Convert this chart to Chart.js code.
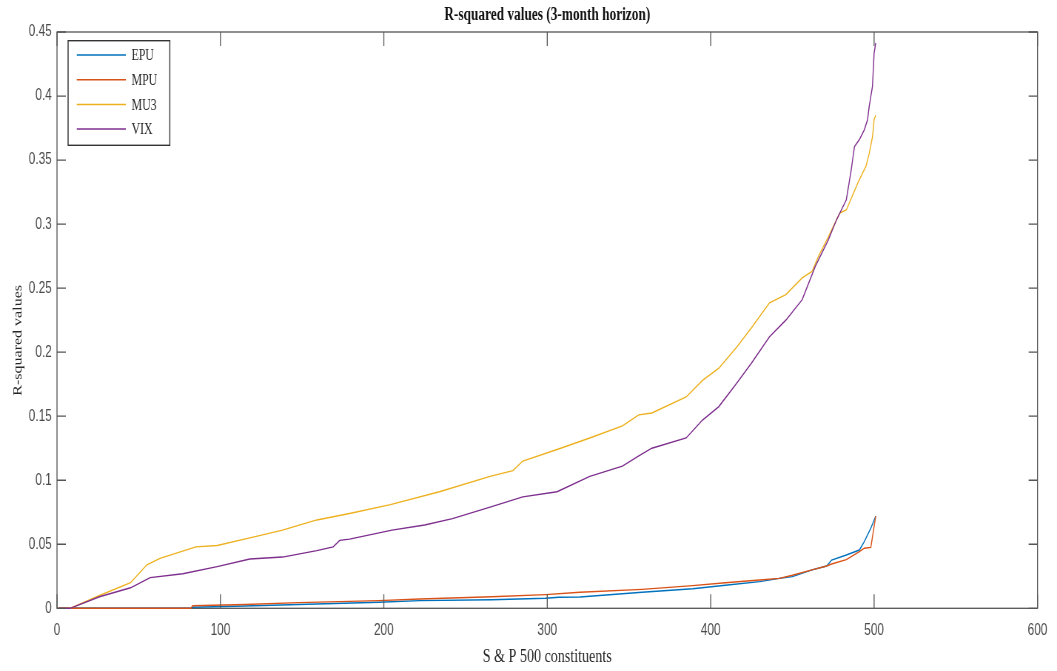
<!DOCTYPE html>
<html>
<head>
<meta charset="utf-8">
<script src="https://cdn.jsdelivr.net/npm/chart.js@4/dist/chart.umd.min.js"></script>
<style>
  html, body { margin: 0; padding: 0; background: #fff; overflow: hidden; }
  /* the figure is laid out wide and squeezed horizontally to its final 1057px width */
  #wrap { width: 1428px; height: 671px; transform: scaleX(0.7402); transform-origin: 0 0; }
</style>
</head>
<body>
<div id="wrap"><canvas id="c" width="1428" height="671"></canvas></div>
<script>
// Sorted R-squared values across S&P 500 constituents (constituent rank -> R²)
const epuX = [1, 82, 83, 115, 148, 197, 222, 266, 299, 307, 320, 328, 358, 389, 409, 430, 442, 450, 462, 471, 474, 483, 491, 494, 498, 501];
const epuY = [0, 0, 0.0008, 0.0018, 0.003, 0.0047, 0.006, 0.0067, 0.0078, 0.0086, 0.0088, 0.0096, 0.0125, 0.0153, 0.018, 0.0208, 0.0234, 0.0247, 0.030, 0.033, 0.0377, 0.0416, 0.0455, 0.052, 0.0625, 0.072];

const mpuX = [1, 82, 83, 115, 148, 197, 222, 266, 299, 320, 358, 389, 409, 430, 442, 450, 462, 471, 474, 483, 491, 494, 498, 501];
const mpuY = [0, 0, 0.002, 0.003, 0.0044, 0.006, 0.0073, 0.009, 0.0107, 0.0125, 0.0148, 0.0177, 0.020, 0.0221, 0.0234, 0.0258, 0.030, 0.033, 0.0346, 0.038, 0.0442, 0.0469, 0.0475, 0.072];

const mu3X = [1, 8, 26, 45, 55, 63, 85, 98, 118, 138, 159, 179, 204, 234, 265, 279, 285, 306, 326, 346, 356, 364, 385, 395, 405, 416, 425, 436, 446, 456, 462, 466, 472, 479, 483, 490, 493, 495, 497, 499, 500, 501];
const mu3Y = [0, 0, 0.010, 0.020, 0.034, 0.039, 0.048, 0.049, 0.055, 0.061, 0.069, 0.074, 0.081, 0.091, 0.103, 0.1075, 0.115, 0.124, 0.133, 0.1425, 0.151, 0.1525, 0.165, 0.178, 0.1875, 0.204, 0.219, 0.2385, 0.245, 0.258, 0.263, 0.275, 0.29, 0.3086, 0.311, 0.332, 0.340, 0.345, 0.355, 0.368, 0.3815, 0.385];

const vixX = [1, 8, 26, 45, 57, 77, 98, 118, 138, 159, 169, 173, 179, 205, 225, 242, 265, 285, 306, 326, 346, 356, 364, 385, 395, 405, 416, 425, 436, 446, 456, 464, 472, 477, 483, 486, 488, 491, 494, 496, 497, 499, 500, 501];
const vixY = [0, 0, 0.009, 0.016, 0.024, 0.027, 0.0325, 0.0385, 0.040, 0.045, 0.048, 0.053, 0.054, 0.061, 0.065, 0.070, 0.079, 0.087, 0.091, 0.103, 0.111, 0.119, 0.125, 0.133, 0.147, 0.1575, 0.176, 0.1915, 0.212, 0.225, 0.241, 0.267, 0.2877, 0.3034, 0.319, 0.3424, 0.3606, 0.366, 0.3736, 0.3815, 0.392, 0.4075, 0.4336, 0.4414];

const seriesNames = ['EPU', 'MPU', 'MU3', 'VIX'];
const seriesColors = ['#0072BD', '#D95319', '#EDB120', '#7E2F8E'];

const xTicks = [0, 100, 200, 300, 400, 500, 600];
const yTicks = [0, 0.05, 0.1, 0.15, 0.2, 0.25, 0.3, 0.35, 0.4, 0.45];

const chartTitle = 'R-squared values (3-month horizon)';
const xTitle = 'S & P 500 constituents';
const yTitle = 'R-squared values';

const zip = (xs, ys) => xs.map((x, i) => ({ x: x, y: ys[i] }));
const seriesData = [zip(epuX, epuY), zip(mpuX, mpuY), zip(mu3X, mu3Y), zip(vixX, vixY)];

const tickFont = { family: "'Liberation Sans', Arial, sans-serif", size: 16 };
const serif = "'Liberation Serif', 'Times New Roman', serif";

// Axes frame behind the lines, inward tick marks on all four sides over them
const axesBox = {
  id: 'axesBox',
  beforeDatasetsDraw(chart) {
    const { ctx, chartArea: a } = chart;
    ctx.save();
    ctx.strokeStyle = '#555';
    ctx.lineWidth = 1.3;
    ctx.strokeRect(a.left, a.top, a.right - a.left, a.bottom - a.top);
    ctx.restore();
  },
  afterDatasetsDraw(chart) {
    const { ctx, chartArea: a, scales } = chart;
    ctx.save();
    ctx.strokeStyle = '#555';
    ctx.lineWidth = 1.3;
    ctx.beginPath();
    scales.x.ticks.forEach(t => {
      const px = scales.x.getPixelForValue(t.value);
      ctx.moveTo(px, a.bottom); ctx.lineTo(px, a.bottom - 14);
      ctx.moveTo(px, a.top); ctx.lineTo(px, a.top + 14);
    });
    scales.y.ticks.forEach(t => {
      const py = scales.y.getPixelForValue(t.value);
      ctx.moveTo(a.left, py); ctx.lineTo(a.left + 12, py);
      ctx.moveTo(a.right, py); ctx.lineTo(a.right - 12, py);
    });
    ctx.stroke();
    ctx.restore();
  }
};

// Bold title centred over the axes, and the rotated y-axis label
const titles = {
  id: 'titles',
  afterDraw(chart) {
    const { ctx, chartArea: a } = chart;
    ctx.save();
    ctx.textAlign = 'center';
    ctx.textBaseline = 'middle';
    ctx.font = 'bold 18px ' + serif;
    ctx.fillStyle = '#111';
    ctx.fillText(chartTitle, (a.left + a.right) / 2, 15.5);
    ctx.translate(24.3, a.top + (a.bottom - a.top) * 0.535);
    ctx.rotate(-Math.PI / 2);
    ctx.font = '16px ' + serif;
    ctx.fillStyle = '#262626';
    ctx.fillText(yTitle, 0, 0);
    ctx.restore();
  }
};

// Boxed legend in the upper-left corner of the axes
const legendBox = {
  id: 'legendBox',
  afterDraw(chart) {
    const { ctx, chartArea: a } = chart;
    const x0 = a.left + 15, y0 = a.top + 8.7, w = 137.4, h = 104.6;
    ctx.save();
    ctx.fillStyle = '#fff';
    ctx.fillRect(x0, y0, w, h);
    ctx.strokeStyle = '#333';
    ctx.lineWidth = 1.4;
    ctx.strokeRect(x0, y0, w, h);
    ctx.font = '16px ' + serif;
    ctx.textBaseline = 'middle';
    ctx.textAlign = 'left';
    chart.data.datasets.forEach((ds, i) => {
      const y = y0 + 14.3 + i * 24.7;
      ctx.strokeStyle = ds.borderColor;
      ctx.lineWidth = 1.5;
      ctx.beginPath();
      ctx.moveTo(x0 + 11.7, y); ctx.lineTo(x0 + 78, y);
      ctx.stroke();
      ctx.fillStyle = '#262626';
      ctx.fillText(ds.label, x0 + 85.7, y + 1);
    });
    ctx.restore();
  }
};

new Chart(document.getElementById('c'), {
  type: 'line',
  data: {
    datasets: seriesNames.map((name, i) => ({
      label: name,
      data: seriesData[i],
      borderColor: seriesColors[i],
      backgroundColor: seriesColors[i],
      borderWidth: 1.4,
      pointRadius: 0,
      tension: 0,
      fill: false,
      clip: 4,
      order: seriesNames.length - i
    }))
  },
  options: {
    responsive: false,
    animation: false,
    devicePixelRatio: 1,
    layout: { padding: { left: 0, right: 23.5, top: 32, bottom: 0 } },
    plugins: {
      legend: { display: false },
      tooltip: { enabled: false },
      title: { display: false }
    },
    scales: {
      x: {
        type: 'linear',
        min: 0,
        max: 600,
        afterBuildTicks(s) { s.ticks = xTicks.map(v => ({ value: v })); },
        afterFit(s) { s.height = 62.7; },
        ticks: { font: tickFont, color: '#4a4a4a', padding: 13, maxRotation: 0, callback: v => String(v) },
        grid: { display: false, drawTicks: false },
        border: { display: false },
        title: {
          display: true,
          text: xTitle,
          color: '#262626',
          font: { family: serif, size: 19 },
          padding: { top: 0, bottom: 2.6 }
        }
      },
      y: {
        type: 'linear',
        min: 0,
        max: 0.45,
        afterBuildTicks(s) { s.ticks = yTicks.map(v => ({ value: v })); },
        afterFit(s) { s.width = 77; },
        ticks: { font: tickFont, color: '#4a4a4a', padding: 7, callback: v => String(+Number(v).toFixed(2)) },
        grid: { display: false, drawTicks: false },
        border: { display: false },
        title: { display: false }
      }
    }
  },
  plugins: [axesBox, titles, legendBox]
});
</script>
</body>
</html>
